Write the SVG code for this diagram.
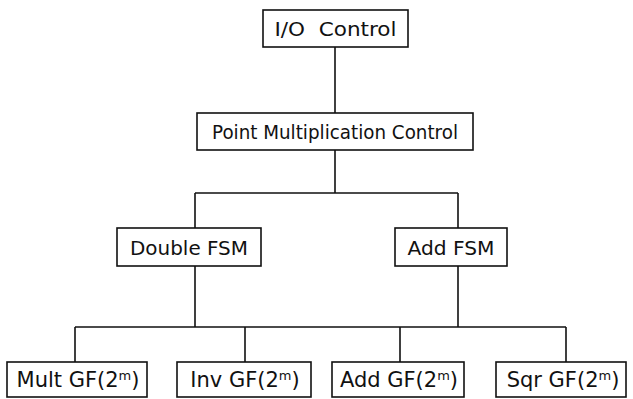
<svg xmlns="http://www.w3.org/2000/svg" width="633" height="399" viewBox="0 0 633 399">
<style>
.box{fill:#fff;stroke:#111;stroke-width:1.6}
.ln{fill:none;stroke:#111;stroke-width:1.6}
.t{font-family:"DejaVu Sans",sans-serif;font-size:20px;fill:#111;text-anchor:middle}
.b{font-size:21px}
.sup{font-size:13px}
</style>
<rect width="633" height="399" fill="#fff"/>
<g id="connectors">
<path class="ln" d="M335 47V113"/>
<path class="ln" d="M335 150V193M195 193H458M195 193V228M458 193V228"/>
<path class="ln" d="M195 266V327M458 266V327M75 327H566M75 327V362M245 327V362M400 327V362M566 327V362"/>
</g>
<g id="io">
<rect class="box" x="263" y="10" width="145" height="37"/>
<text class="t" x="335.5" y="36" textLength="122" lengthAdjust="spacingAndGlyphs" xml:space="preserve">I/O  Control</text>
</g>
<g id="pmc">
<rect class="box" x="197" y="113" width="276" height="37"/>
<text class="t" x="335" y="139" textLength="246" lengthAdjust="spacingAndGlyphs">Point Multiplication Control</text>
</g>
<g id="double">
<rect class="box" x="117" y="228" width="144" height="38"/>
<text class="t" x="189" y="254.5" textLength="118" lengthAdjust="spacingAndGlyphs">Double FSM</text>
</g>
<g id="addfsm">
<rect class="box" x="395" y="228" width="112" height="38"/>
<text class="t" x="451" y="254.5" textLength="87" lengthAdjust="spacingAndGlyphs">Add FSM</text>
</g>
<g id="mult">
<rect class="box" x="7" y="362" width="140" height="35"/>
<text class="t b" x="78" y="387">Mult GF(2<tspan class="sup" dy="-7">m</tspan><tspan dy="7">)</tspan></text>
</g>
<g id="inv">
<rect class="box" x="177" y="362" width="134" height="35"/>
<text class="t b" x="245" y="387">Inv GF(2<tspan class="sup" dy="-7">m</tspan><tspan dy="7">)</tspan></text>
</g>
<g id="addgf">
<rect class="box" x="332" y="362" width="132" height="35"/>
<text class="t b" x="399" y="387">Add GF(2<tspan class="sup" dy="-7">m</tspan><tspan dy="7">)</tspan></text>
</g>
<g id="sqr">
<rect class="box" x="496" y="362" width="130" height="35"/>
<text class="t b" x="563" y="387">Sqr GF(2<tspan class="sup" dy="-7">m</tspan><tspan dy="7">)</tspan></text>
</g>
</svg>
